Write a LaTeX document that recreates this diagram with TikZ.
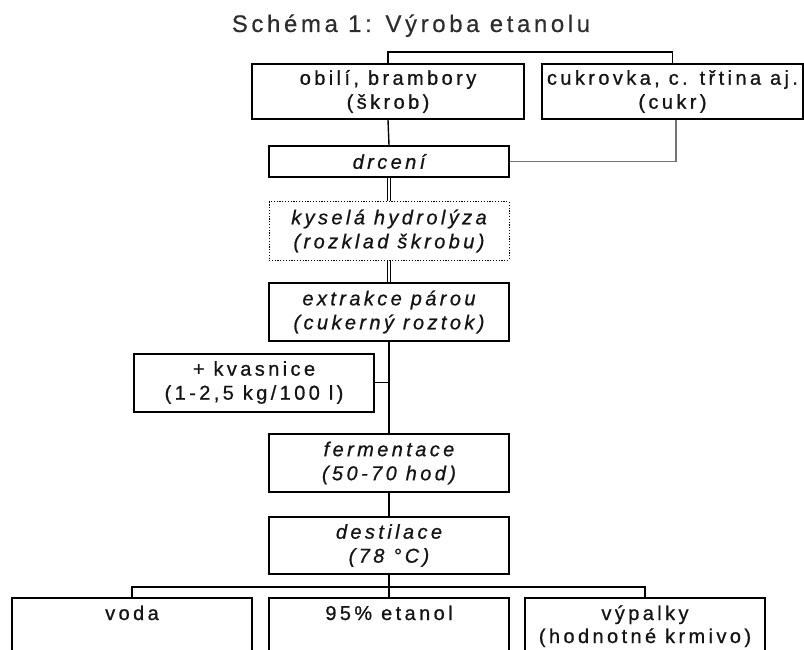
\documentclass[tikz,border=0pt]{standalone}
\usepackage{fontspec}
\setmainfont{Liberation Sans}
\newfontfamily\boxfont[LetterSpace=17,FakeBold=0.8]{Liberation Sans}
\newfontfamily\titlefont[LetterSpace=15,FakeBold=0.4]{Liberation Sans}
\definecolor{conngray}{RGB}{115,115,115}
\definecolor{inkc}{RGB}{20,20,20}
\begin{document}
\begin{tikzpicture}[x=1pt,y=-1pt,
  box/.style={draw=black, line width=2pt, rectangle, minimum width=240pt, minimum height=58pt,
    inner sep=0pt, align=center, text=inkc, font=\boxfont\fontsize{20}{24}\selectfont},
  itbox/.style={box, font=\boxfont\itshape\fontsize{20}{24}\selectfont},
  dotbox/.style={itbox, line width=1pt, dash pattern=on 1.2pt off 1.6pt},
  conn/.style={draw=black, line width=1.4pt},
  dconn/.style={draw=black, line width=0.8pt, double, double distance=1.6pt},
  gconn/.style={draw=conngray, line width=1.6pt},
  txt/.style={inner sep=0pt, align=center, text=inkc, font=\boxfont\fontsize{20}{24}\selectfont}
]
\useasboundingbox (0,0) rectangle (804,650);
\clip (0,0) rectangle (804,650);

\node[inner sep=0pt, anchor=base, text={rgb,255:red,45;green,45;blue,45},
  font=\titlefont\fontsize{24}{26}\selectfont] (title) at (411,32) {Schéma 1: Výroba etanolu};

\node[box, minimum width=272pt, minimum height=55pt] (obili) at (388,91.5) {obilí, brambory\\(škrob)};
\node[box, minimum width=261pt, minimum height=55pt] (cukr) at (672.5,91.5) {cukrovka, c. třtina aj.\\(cukr)};
\node[itbox, minimum height=31pt] (drceni) at (389,161.5) {drcení};
\node[dotbox] (hydro) at (389,231) {kyselá hydrolýza\\(rozklad škrobu)};
\node[itbox] (extr) at (389,312) {extrakce párou\\(cukerný roztok)};
\node[box] (kvas) at (254,382.5) {+ kvasnice\\(1-2,5 kg/100 l)};
\node[itbox] (ferm) at (389,463) {fermentace\\(50-70 hod)};
\node[itbox, minimum height=57pt] (dest) at (389,545.5) {destilace\\(78 °C)};

\node[box, anchor=north, minimum height=90pt] (voda) at (132,597) {};
\node[box, anchor=north, minimum height=90pt] (etanol) at (389,597) {};
\node[box, anchor=north, minimum height=90pt] (vypalky) at (645,597) {};
\node[txt, anchor=base] (vodat) at (132,620) {voda};
\node[txt, anchor=base] (etanolt) at (389,620) {95\% etanol};
\node[txt, anchor=base] (vypalkyt) at (645,620) {výpalky};
\node[txt, anchor=base] (vypalkyt2) at (645,643) {(hodnotné krmivo)};

\coordinate (topbar) at (530,52);
\coordinate (botbar) at (389,587);

\draw[conn] (obili.north) |- (topbar) -| (cukr.north);
\draw[conn] (obili.south) -- (drceni.north);
\draw[gconn] (cukr.south -| 676,0) |- (drceni.east);
\draw[dconn] (drceni.south) -- (hydro.north);
\draw[dconn] (hydro.south) -- (extr.north);
\draw[conn] (extr.south) -- (ferm.north);
\draw[conn] (kvas.east) -- (kvas.east -| extr.south);
\draw[conn] (ferm.south) -- (dest.north);
\draw[conn] (dest.south) -- (botbar);
\draw[conn] (voda.north) |- (botbar) -| (vypalky.north);
\draw[conn] (botbar) -- (etanol.north);
\end{tikzpicture}
\end{document}
